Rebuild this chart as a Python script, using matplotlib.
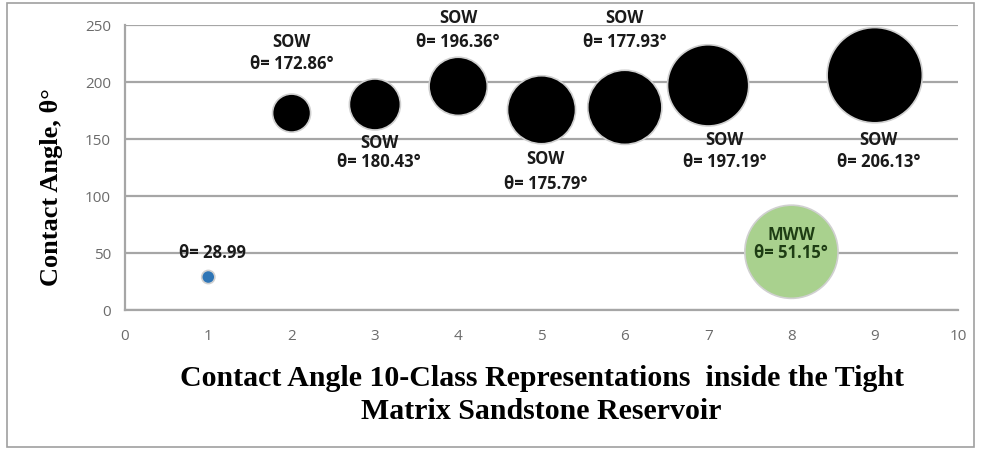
import matplotlib.pyplot as plt
from matplotlib.patches import Rectangle

# Data
classes = [1, 2, 3, 4, 5, 6, 7, 8, 9]
angles = [28.99, 172.86, 180.43, 196.36, 175.79, 177.93, 197.19, 51.15, 206.13]
bubble = [1.2, 10, 18, 23.4, 32, 38, 45.6, 60, 62.7]
wet_type = ['', 'SOW', 'SOW', 'SOW', 'SOW', 'SOW', 'SOW', 'MWW', 'SOW']
y_ticks = [0, 50, 100, 150, 200, 250]
x_ticks = list(range(0, 11))

colors = ['#2e75b6'] + ['black'] * 6 + ['#a9d18e', 'black']

fig = plt.figure(figsize=(9.81, 4.5), dpi=100)
fig.patches.append(Rectangle((0.007, 0.006), 0.986, 0.988, transform=fig.transFigure,
                             fill=False, edgecolor='#a0a0a0', linewidth=1.2))
ax = fig.add_axes([0.1274, 0.311, 0.8492, 0.633])

for v in y_ticks:
    ax.axhline(v, color='#a6a6a6', linewidth=1.6, zorder=0)

ax.scatter(classes, angles, s=[b * 75 for b in bubble], c=colors,
           edgecolors='#d0d0d0', linewidths=1.2, zorder=3)

# annotations
lab_font = dict(family='Open Sans', fontsize=12, fontweight='bold', color='#1a1a1a',
                ha='center', va='center', zorder=5)
ax.text(1.05, 50, 'θ= 28.99', **lab_font)
above = {2: (235, 216), 4: (256, 235), 6: (256, 235)}
below = {3: (147, 130), 5: (133, 111), 7: (149, 130), 9: (149, 130)}
for i, x in enumerate(classes):
    if x == 1:
        continue
    txt2 = 'θ= %.2f°' % angles[i]
    if x in above:
        y1, y2 = above[x]
        ax.text(x, y1, wet_type[i], **lab_font)
        ax.text(x, y2, txt2, **lab_font)
    elif x in below:
        y1, y2 = below[x]
        dx = 0.2 if x == 7 else 0.05
        ax.text(x + dx, y1, wet_type[i], **lab_font)
        ax.text(x + dx, y2, txt2, **lab_font)
    else:
        ax.text(x, 66, wet_type[i], **dict(lab_font, color='#1e3d14'))
        ax.text(x, 50, txt2, **dict(lab_font, color='#1e3d14'))

ax.set_xlim(0, 10)
ax.set_ylim(0, 250)
ax.set_xticks(x_ticks)
ax.set_yticks(y_ticks)
ax.tick_params(length=0, labelsize=11, colors='#6b6b6b')
ax.tick_params(axis='x', pad=14)
ax.tick_params(axis='y', pad=10)
for lab in ax.get_xticklabels() + ax.get_yticklabels():
    lab.set_family('Open Sans')
for s in ['top', 'right']:
    ax.spines[s].set_visible(False)
for s in ['left', 'bottom']:
    ax.spines[s].set_color('#a6a6a6')
    ax.spines[s].set_linewidth(1.6)

ax.set_ylabel('Contact Angle, θ°', family='Liberation Serif', fontweight='bold',
              fontsize=19)
ax.yaxis.set_label_coords(-0.074, 0.43)
ax.set_xlabel('Contact Angle 10-Class Representations  inside the Tight\nMatrix Sandstone Reservoir',
              family='Liberation Serif', fontweight='bold', fontsize=21.5, labelpad=15,
              linespacing=1.25)

fig.savefig('out.png', dpi=100)
